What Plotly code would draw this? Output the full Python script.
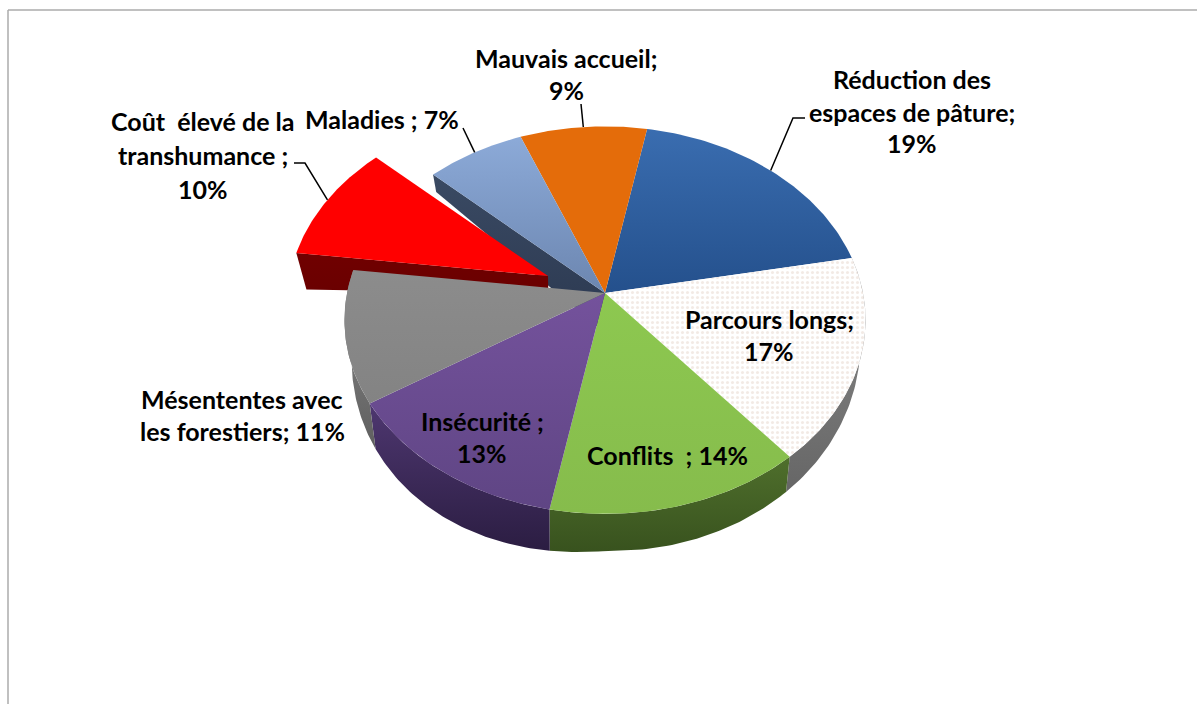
import numpy as np
import plotly.graph_objects as go

categories = ["Réduction des espaces de pâture", "Parcours longs", "Conflits", "Insécurité",
              "Mésententes avec les forestiers", "Coût élevé de la transhumance", "Maladies", "Mauvais accueil"]
values = [19, 17, 14, 13, 11, 10, 7, 9]
top_colors = [["#3A6DB0", "#24508C"], ["#FFFFFF", "#FFFFFF"], ["#8DC850", "#86BC4C"], ["#74529C", "#5F4584"],
              ["#8C8C8C", "#838383"], ["#FF0000", "#FF0000"], ["#8CAAD8", "#6C86B0"], ["#E46C0A", "#E46C0A"]]
side_colors = [["#24508C", "#1B3C69"], ["#8A8A8A", "#666666"], ["#4F6F2C", "#38521E"], ["#4E3770", "#2B1D42"],
               ["#8A8A8A", "#5F5F5F"], ["#700000", "#6A0000"], ["#3A4A63", "#2B3850"], ["#A54E07", "#A54E07"]]
exploded = {5: (-57, -17)}
label_lines = [
    (["Réduction des", "espaces de pâture;", "19%"], 912, [80, 113, 144]),
    (["Parcours longs;", "17%"], 769, [320, 352]),
    (["Conflits\u00a0 ; 14%"], 667, [456]),
    (["Insécurité ;", "13%"], 482, [422, 454]),
    (["Mésententes avec", "les forestiers; 11%"], 242, [400, 432]),
    (["Coût\u00a0 élevé de la", "transhumance ;", "10%"], 203, [122, 156, 190]),
    (["Maladies ; 7%"], 382, [120]),
    (["Mauvais accueil;", "9%"], 566, [59, 91]),
]
leaders = {0: [(793, 118), (805, 118)], 7: [(581, 104)], 6: [(463, 128)], 5: [(305, 163), (294, 163)]}

CX, CY, R, A, K = 605, 293, 258, 190, 0.14
START = 10.7
FONT = "Lato"
FS = 25


def project(theta):
    t = np.radians(theta)
    u, v = np.sin(t), -np.cos(t)
    w = 1 - K * v
    return CX + R * u / w, CY + A * v / w


def lower(x, y):
    x = np.asarray(x, float)
    dx = x - CX
    dy = np.asarray(y, float) - CY
    shift = np.where(dx < 0, 1.06e-4 * dx * dx, -0.02 * dx)
    drop = 15 + 0.1 * dy + np.where(dx < 0, -0.083 * dx, 0.02 * dx)
    return x + shift, y + drop


fig = go.Figure()


def poly(x, y, colors=None, pattern=None):
    kw = dict(x=list(np.asarray(x).ravel()), y=list(np.asarray(y).ravel()), mode="lines", fill="toself",
              line=dict(width=0), hoverinfo="skip", showlegend=False)
    if pattern:
        kw["fillcolor"] = "#FFFFFF"
        kw["fillpattern"] = pattern
    elif colors[0] == colors[1]:
        kw["fillcolor"] = colors[0]
    else:
        # plotly's vertical gradient runs from the bottom of the shape to its top
        kw["fillgradient"] = dict(type="vertical", colorscale=[[0, colors[1]], [1, colors[0]]])
    fig.add_trace(go.Scatter(**kw))


edges = START + np.concatenate([[0], np.cumsum(values)]) * 360 / sum(values)


def arc(i):
    th = np.linspace(edges[i], edges[i + 1], 60)
    ox, oy = exploded.get(i, (0, 0))
    x, y = project(th)
    return x + ox, y + oy


def top(i):
    ox, oy = exploded.get(i, (0, 0))
    x, y = arc(i)
    pattern = dict(shape=".", fgcolor="#E6D5CB", bgcolor="#FFFFFF", size=5, solidity=0.3) if i == 1 else None
    poly(np.r_[CX + ox, x, CX + ox], np.r_[CY + oy, y, CY + oy], top_colors[i], pattern)


def outer_side(i):
    x, y = arc(i)
    bx, by = lower(x, y)
    poly(np.r_[x, bx[::-1]], np.r_[y, by[::-1]], side_colors[i])


def cut_face(i, idx, apex_drop=None):
    ox, oy = exploded.get(i, (0, 0))
    x, y = arc(i)
    ex, ey = x[idx], y[idx]
    apx, apy = CX + ox, CY + oy
    lx, ly = lower(np.array([apx, ex]), np.array([apy, ey]))
    if apex_drop is not None:
        ly[0] = apy + apex_drop
    poly([apx, ex, lx[1], lx[0], apx], [apy, ey, ly[1], ly[0], apy], side_colors[i])


# back slices first
cut_face(6, 0, apex_drop=40)
for i in (0, 7, 6):
    top(i)
# exploded slice
cut_face(5, 0)
top(5)
# front slices: rims, then faces
for i in (1, 2, 3, 4):
    outer_side(i)
for i in (1, 2, 3, 4):
    top(i)

# leader lines, anchored on the slices' mid angles
for i, pts in leaders.items():
    ox, oy = exploded.get(i, (0, 0))
    mx, my = project((edges[i] + edges[i + 1]) / 2)
    xs = [mx + ox] + [p[0] for p in pts]
    ys = [my + oy] + [p[1] for p in pts]
    fig.add_trace(go.Scatter(x=xs, y=ys, mode="lines", line=dict(color="#000000", width=1.5),
                             hoverinfo="skip", showlegend=False))

annotations = []
for lines, cx, ys in label_lines:
    for text, y in zip(lines, ys):
        annotations.append(dict(x=cx, y=y, xref="x", yref="y", text=f"<b>{text}</b>", showarrow=False, yshift=1,
                                font=dict(family=FONT, size=FS, color="#000000"), xanchor="center", yanchor="middle"))

fig.update_layout(
    width=1197, height=704, margin=dict(l=0, r=0, t=0, b=0), paper_bgcolor="#FFFFFF", plot_bgcolor="#FFFFFF",
    xaxis=dict(range=[0, 1197], visible=False, fixedrange=True),
    yaxis=dict(range=[704, 0], visible=False, fixedrange=True),
    annotations=annotations,
    shapes=[dict(type="line", xref="x", yref="y", x0=8, y0=10, x1=1197, y1=10, line=dict(color="#ABABAB", width=1.5)),
            dict(type="line", xref="x", yref="y", x0=8, y0=10, x1=8, y1=704, line=dict(color="#ABABAB", width=1.5))],
)
fig.write_html("out.html", config={"displayModeBar": False},
               post_script="document.body.style.margin='0';document.body.style.overflow='hidden';")
